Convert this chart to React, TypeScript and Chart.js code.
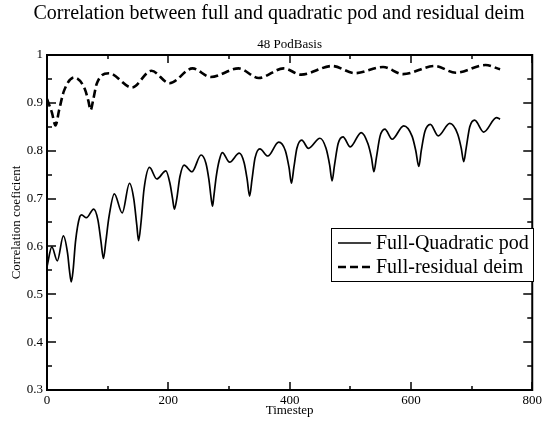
import React, { useEffect, useRef } from 'react';
import { Chart, registerables } from 'chart.js';

Chart.register(...registerables);

const titleText = 'Correlation between full and quadratic pod and residual deim';
const subtitleText = '48 PodBasis';
const xTitle = 'Timestep';
const yTitle = 'Correlation coeficient';
const seriesNames = ['Full-Quadratic pod', 'Full-residual deim'];

const podSteps = [
  0, 8, 17, 27, 34, 37, 40, 43, 47, 54, 57, 65, 77, 84, 89, 93, 97, 102, 111, 124, 136, 143, 148, 151, 155, 160,
  169, 181, 196, 203, 207, 210, 214, 219, 226, 239, 254, 262, 267, 271, 273, 275, 279, 284, 289, 301, 317, 325, 330,
  334, 338, 343, 351, 364, 382, 393, 399, 403, 407, 412, 420, 431, 450, 460, 466, 470, 474, 480, 488, 500, 518, 529,
  535, 539, 543, 549, 557, 569, 588, 602, 608, 613, 617, 623, 632, 645, 664, 677, 683, 687, 691, 697, 705, 720, 741, 747,
];
const podValues = [
  0.558, 0.599, 0.570, 0.622, 0.585, 0.550, 0.526, 0.550, 0.610, 0.662, 0.666, 0.660, 0.678, 0.655, 0.610, 0.575, 0.610,
  0.660, 0.710, 0.670, 0.732, 0.700, 0.645, 0.612, 0.650, 0.720, 0.765, 0.741, 0.758, 0.730, 0.700, 0.678, 0.700, 0.745,
  0.770, 0.756, 0.791, 0.774, 0.739, 0.697, 0.684, 0.704, 0.746, 0.780, 0.796, 0.776, 0.795, 0.775, 0.740, 0.705, 0.740,
  0.785, 0.804, 0.789, 0.818, 0.800, 0.765, 0.732, 0.765, 0.805, 0.822, 0.805, 0.826, 0.805, 0.770, 0.737, 0.770, 0.815,
  0.829, 0.808, 0.838, 0.815, 0.785, 0.756, 0.785, 0.830, 0.845, 0.824, 0.852, 0.830, 0.800, 0.767, 0.800, 0.840, 0.855,
  0.831, 0.857, 0.835, 0.805, 0.777, 0.805, 0.850, 0.864, 0.839, 0.869, 0.866,
];

const deimSteps = [0, 8, 14, 20, 28, 45, 62, 68, 72, 76, 82, 102, 140, 172, 202, 240, 270, 316, 349, 390, 419, 470, 508, 554, 587, 639, 674, 723, 747];
const deimValues = [0.908, 0.880, 0.853, 0.885, 0.925, 0.953, 0.930, 0.905, 0.885, 0.905, 0.940, 0.962, 0.932, 0.967, 0.941, 0.972, 0.954, 0.972, 0.952, 0.972, 0.959, 0.977, 0.962, 0.975, 0.960, 0.977, 0.963, 0.979, 0.970];

const xMin = 0;
const xMax = 800;
const xStep = 200;
const yMin = 0.3;
const yMax = 1;
const yStep = 0.1;

const SERIF = '"Liberation Serif", "Times New Roman", serif';

const decorPlugin = {
  id: 'decor',
  afterDraw(chart: any) {
    const { ctx, chartArea: a, scales } = chart;
    const xs = scales.x;
    const ys = scales.y;
    ctx.save();
    ctx.strokeStyle = '#000';
    ctx.fillStyle = '#000';
    const seg = (x1: number, y1: number, x2: number, y2: number) => {
      ctx.beginPath();
      ctx.moveTo(x1, y1);
      ctx.lineTo(x2, y2);
      ctx.stroke();
    };
    ctx.lineWidth = 1.5;
    const nx = Math.round((xMax - xMin) / (xStep / 2));
    for (let i = 0; i <= nx; i++) {
      const v = xMin + (i * xStep) / 2;
      const L = i % 2 === 0 ? 8 : 4;
      const px = Math.round(xs.getPixelForValue(v));
      seg(px, a.bottom, px, a.bottom - L);
      seg(px, a.top, px, a.top + L);
    }
    const ny = Math.round((yMax - yMin) / (yStep / 2));
    for (let i = 0; i <= ny; i++) {
      const v = yMin + (i * yStep) / 2;
      const L = i % 2 === 0 ? 9 : 5;
      const py = Math.round(ys.getPixelForValue(v));
      seg(a.left, py, a.left + L, py);
      seg(a.right, py, a.right - L, py);
    }
    ctx.lineWidth = 2;
    ctx.strokeRect(a.left, a.top, a.right - a.left, a.bottom - a.top);

    ctx.textAlign = 'center';
    ctx.textBaseline = 'middle';
    ctx.font = `20px ${SERIF}`;
    ctx.fillText(titleText, 279, 14);
    ctx.font = `13px ${SERIF}`;
    ctx.fillText(subtitleText, (a.left + a.right) / 2, 45);
    ctx.font = `13px ${SERIF}`;
    ctx.fillText(xTitle, (a.left + a.right) / 2, 411);
    ctx.save();
    ctx.translate(17, (a.top + a.bottom) / 2);
    ctx.rotate(-Math.PI / 2);
    ctx.font = `13px ${SERIF}`;
    ctx.fillText(yTitle, 0, 0);
    ctx.restore();

    const bx = 331, by = 228, bw = 202, bh = 53;
    ctx.fillStyle = '#fff';
    ctx.fillRect(bx, by, bw, bh);
    ctx.lineWidth = 1;
    ctx.strokeStyle = '#000';
    ctx.strokeRect(bx + 0.5, by + 0.5, bw, bh);
    ctx.fillStyle = '#000';
    ctx.textAlign = 'left';
    ctx.font = `20px ${SERIF}`;
    const rows = [243, 267];
    chart.data.datasets.forEach((ds: any, i: number) => {
      ctx.save();
      ctx.lineWidth = ds.borderWidth;
      ctx.setLineDash(ds.borderDash || []);
      seg(338, rows[i], 371, rows[i]);
      ctx.restore();
      ctx.fillText(seriesNames[i], 376, rows[i] + 1);
    });
    ctx.restore();
  },
};

export default function App() {
  const ref = useRef<HTMLCanvasElement | null>(null);
  useEffect(() => {
    if (!ref.current) return;
    const chart = new Chart(ref.current, {
      type: 'line',
      data: {
        datasets: [
          {
            label: seriesNames[0],
            data: podSteps.map((x, i) => ({ x, y: podValues[i] })),
            borderColor: '#000',
            borderWidth: 1.7,
            pointRadius: 0,
            cubicInterpolationMode: 'monotone',
            fill: false,
          },
          {
            label: seriesNames[1],
            data: deimSteps.map((x, i) => ({ x, y: deimValues[i] })),
            borderColor: '#000',
            borderWidth: 2.6,
            borderDash: [8, 4],
            pointRadius: 0,
            cubicInterpolationMode: 'monotone',
            fill: false,
          },
        ],
      },
      options: {
        animation: false,
        responsive: false,
        layout: { padding: { top: 55, right: 10, left: 0, bottom: 0 } },
        plugins: {
          legend: { display: false },
          title: { display: false },
          tooltip: { enabled: false },
        },
        scales: {
          x: {
            type: 'linear',
            min: xMin,
            max: xMax,
            ticks: {
              stepSize: xStep,
              color: '#000',
              font: { family: SERIF, size: 13 },
              padding: 3,
              maxRotation: 0,
            },
            grid: { display: false, drawTicks: false },
            border: { display: false },
            afterFit: (s: any) => {
              s.height = 36;
            },
          },
          y: {
            type: 'linear',
            min: yMin,
            max: yMax,
            ticks: {
              stepSize: yStep,
              color: '#000',
              font: { family: SERIF, size: 13 },
              padding: 4,
              callback: (v: any) => String(Number(Number(v).toFixed(2))),
            },
            grid: { display: false, drawTicks: false },
            border: { display: false },
            afterFit: (s: any) => {
              s.width = 47;
            },
          },
        },
      },
      plugins: [decorPlugin],
    } as any);
    return () => chart.destroy();
  }, []);
  return (
    <div style={{ position: 'absolute', left: 0, top: 0, width: 545, height: 426, background: '#fff' }}>
      <canvas ref={ref} width={545} height={426} style={{ display: 'block' }} />
    </div>
  );
}
